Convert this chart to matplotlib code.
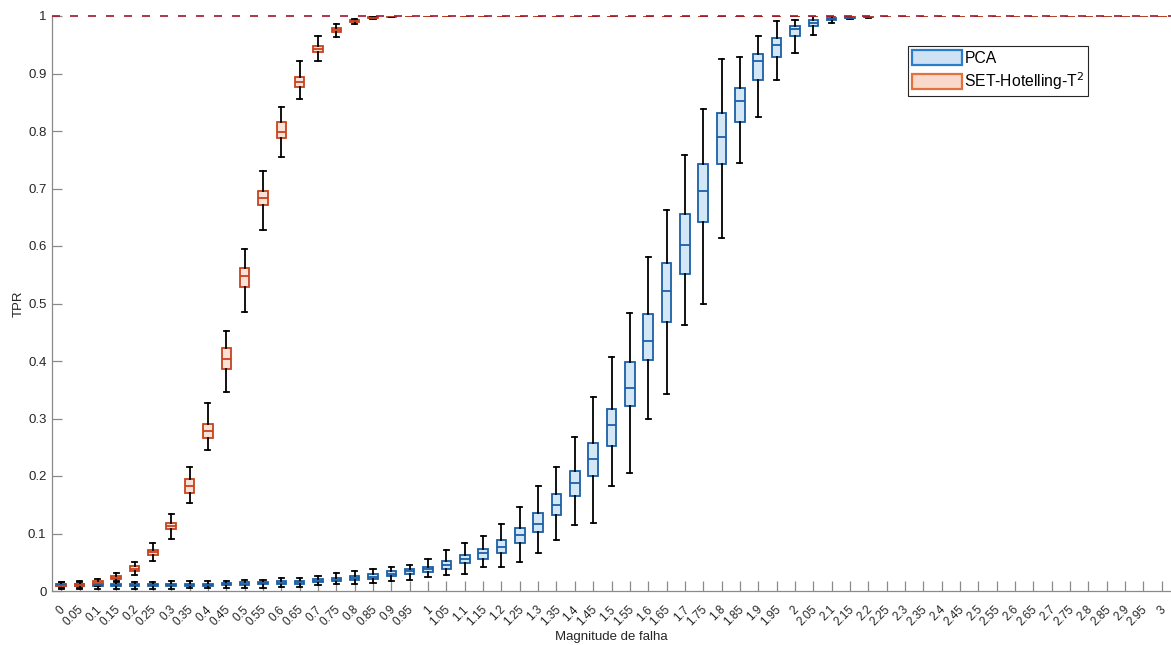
import matplotlib
matplotlib.use("Agg")
import matplotlib.pyplot as plt
import matplotlib.transforms as mtransforms
from matplotlib.patches import Patch

plt.rcParams['font.family'] = ['Liberation Sans', 'DejaVu Sans']

# fault magnitudes (x categories)
magnitudes = ['0', '0.05', '0.1', '0.15', '0.2', '0.25', '0.3', '0.35', '0.4', '0.45',
              '0.5', '0.55', '0.6', '0.65', '0.7', '0.75', '0.8', '0.85', '0.9', '0.95',
              '1', '1.05', '1.1', '1.15', '1.2', '1.25', '1.3', '1.35', '1.4', '1.45',
              '1.5', '1.55', '1.6', '1.65', '1.7', '1.75', '1.8', '1.85', '1.9', '1.95',
              '2', '2.05', '2.1', '2.15', '2.2', '2.25', '2.3', '2.35', '2.4', '2.45',
              '2.5', '2.55', '2.6', '2.65', '2.7', '2.75', '2.8', '2.85', '2.9', '2.95', '3']

# PCA: whisker low, q1, median, q3, whisker high
pca_lo = [0.004, 0.004, 0.004, 0.004, 0.004, 0.004, 0.004, 0.005, 0.005, 0.005,
          0.006, 0.006, 0.007, 0.007, 0.010, 0.012, 0.012, 0.014, 0.018, 0.019,
          0.024, 0.027, 0.030, 0.042, 0.042, 0.051, 0.066, 0.089, 0.114, 0.118,
          0.183, 0.206, 0.300, 0.343, 0.462, 0.500, 0.614, 0.745, 0.825, 0.888,
          0.935, 0.967, 0.987, 0.995, 0.997, 1.0, 1.0, 1.0, 1.0, 1.0,
          1.0, 1.0, 1.0, 1.0, 1.0, 1.0, 1.0, 1.0, 1.0, 1.0, 1.0]
pca_q1 = [0.008, 0.008, 0.008, 0.008, 0.008, 0.008, 0.008, 0.009, 0.009, 0.010,
          0.011, 0.012, 0.012, 0.013, 0.015, 0.017, 0.019, 0.021, 0.026, 0.030,
          0.033, 0.038, 0.048, 0.056, 0.066, 0.084, 0.103, 0.132, 0.165, 0.200,
          0.253, 0.321, 0.401, 0.467, 0.552, 0.642, 0.743, 0.815, 0.889, 0.929,
          0.965, 0.983, 0.993, 0.996, 0.998, 1.0, 1.0, 1.0, 1.0, 1.0,
          1.0, 1.0, 1.0, 1.0, 1.0, 1.0, 1.0, 1.0, 1.0, 1.0, 1.0]
pca_med = [0.010, 0.010, 0.010, 0.010, 0.010, 0.010, 0.010, 0.011, 0.011, 0.012,
           0.013, 0.014, 0.014, 0.015, 0.018, 0.020, 0.023, 0.025, 0.030, 0.035,
           0.038, 0.045, 0.055, 0.066, 0.077, 0.097, 0.117, 0.150, 0.187, 0.230,
           0.288, 0.353, 0.435, 0.522, 0.602, 0.696, 0.789, 0.852, 0.921, 0.950,
           0.977, 0.988, 0.995, 0.997, 0.999, 1.0, 1.0, 1.0, 1.0, 1.0,
           1.0, 1.0, 1.0, 1.0, 1.0, 1.0, 1.0, 1.0, 1.0, 1.0, 1.0]
pca_q3 = [0.012, 0.012, 0.012, 0.012, 0.012, 0.012, 0.012, 0.013, 0.013, 0.014,
          0.015, 0.016, 0.017, 0.018, 0.021, 0.023, 0.026, 0.030, 0.034, 0.039,
          0.042, 0.052, 0.063, 0.073, 0.088, 0.109, 0.136, 0.169, 0.208, 0.258,
          0.317, 0.399, 0.482, 0.570, 0.656, 0.742, 0.831, 0.874, 0.934, 0.961,
          0.983, 0.993, 0.997, 0.998, 1.0, 1.0, 1.0, 1.0, 1.0, 1.0,
          1.0, 1.0, 1.0, 1.0, 1.0, 1.0, 1.0, 1.0, 1.0, 1.0, 1.0]
pca_hi = [0.016, 0.016, 0.016, 0.016, 0.016, 0.016, 0.017, 0.017, 0.018, 0.018,
          0.020, 0.020, 0.022, 0.023, 0.026, 0.031, 0.035, 0.039, 0.042, 0.045,
          0.056, 0.072, 0.084, 0.096, 0.117, 0.146, 0.183, 0.215, 0.268, 0.337,
          0.407, 0.484, 0.581, 0.662, 0.758, 0.839, 0.925, 0.929, 0.965, 0.991,
          0.993, 1.0, 1.0, 1.0, 1.0, 1.0, 1.0, 1.0, 1.0, 1.0,
          1.0, 1.0, 1.0, 1.0, 1.0, 1.0, 1.0, 1.0, 1.0, 1.0, 1.0]

# SET-Hotelling-T2
set_lo = [0.006, 0.006, 0.008, 0.018, 0.027, 0.052, 0.090, 0.153, 0.245, 0.346,
          0.485, 0.627, 0.755, 0.855, 0.922, 0.964, 0.986, 0.994, 0.998, 1.0,
          1.0, 1.0, 1.0, 1.0, 1.0, 1.0, 1.0, 1.0, 1.0, 1.0,
          1.0, 1.0, 1.0, 1.0, 1.0, 1.0, 1.0, 1.0, 1.0, 1.0,
          1.0, 1.0, 1.0, 1.0, 1.0, 1.0, 1.0, 1.0, 1.0, 1.0,
          1.0, 1.0, 1.0, 1.0, 1.0, 1.0, 1.0, 1.0, 1.0, 1.0, 1.0]
set_q1 = [0.008, 0.009, 0.012, 0.021, 0.035, 0.062, 0.107, 0.170, 0.266, 0.386,
          0.528, 0.671, 0.788, 0.876, 0.938, 0.972, 0.989, 0.996, 0.999, 1.0,
          1.0, 1.0, 1.0, 1.0, 1.0, 1.0, 1.0, 1.0, 1.0, 1.0,
          1.0, 1.0, 1.0, 1.0, 1.0, 1.0, 1.0, 1.0, 1.0, 1.0,
          1.0, 1.0, 1.0, 1.0, 1.0, 1.0, 1.0, 1.0, 1.0, 1.0,
          1.0, 1.0, 1.0, 1.0, 1.0, 1.0, 1.0, 1.0, 1.0, 1.0, 1.0]
set_med = [0.0095, 0.011, 0.0145, 0.023, 0.039, 0.067, 0.113, 0.183, 0.279, 0.404,
           0.547, 0.683, 0.798, 0.886, 0.943, 0.976, 0.991, 0.997, 0.9995, 1.0,
           1.0, 1.0, 1.0, 1.0, 1.0, 1.0, 1.0, 1.0, 1.0, 1.0,
           1.0, 1.0, 1.0, 1.0, 1.0, 1.0, 1.0, 1.0, 1.0, 1.0,
           1.0, 1.0, 1.0, 1.0, 1.0, 1.0, 1.0, 1.0, 1.0, 1.0,
           1.0, 1.0, 1.0, 1.0, 1.0, 1.0, 1.0, 1.0, 1.0, 1.0, 1.0]
set_q3 = [0.011, 0.013, 0.017, 0.026, 0.043, 0.071, 0.119, 0.195, 0.291, 0.423,
          0.562, 0.696, 0.815, 0.894, 0.948, 0.979, 0.993, 0.998, 1.0, 1.0,
          1.0, 1.0, 1.0, 1.0, 1.0, 1.0, 1.0, 1.0, 1.0, 1.0,
          1.0, 1.0, 1.0, 1.0, 1.0, 1.0, 1.0, 1.0, 1.0, 1.0,
          1.0, 1.0, 1.0, 1.0, 1.0, 1.0, 1.0, 1.0, 1.0, 1.0,
          1.0, 1.0, 1.0, 1.0, 1.0, 1.0, 1.0, 1.0, 1.0, 1.0, 1.0]
set_hi = [0.015, 0.017, 0.021, 0.031, 0.051, 0.083, 0.134, 0.216, 0.327, 0.452,
          0.595, 0.730, 0.842, 0.922, 0.966, 0.986, 0.995, 0.999, 1.0, 1.0,
          1.0, 1.0, 1.0, 1.0, 1.0, 1.0, 1.0, 1.0, 1.0, 1.0,
          1.0, 1.0, 1.0, 1.0, 1.0, 1.0, 1.0, 1.0, 1.0, 1.0,
          1.0, 1.0, 1.0, 1.0, 1.0, 1.0, 1.0, 1.0, 1.0, 1.0,
          1.0, 1.0, 1.0, 1.0, 1.0, 1.0, 1.0, 1.0, 1.0, 1.0, 1.0]

PCA_EDGE, PCA_FILL = '#1B5FA6', '#D4E7F6'
SET_EDGE, SET_FILL = '#C8431D', '#FBE2D8'
AX_GREY = '#8A8A8A'
TXT = '#262626'


def make_stats(lo, q1, med, q3, hi):
    return [dict(whislo=a, q1=b, med=c, q3=d, whishi=e, fliers=[])
            for a, b, c, d, e in zip(lo, q1, med, q3, hi)]


def draw_boxes(ax, stats, edge, fill):
    pos = list(range(1, len(stats) + 1))
    ax.bxp(stats, positions=pos, widths=0.52, capwidths=0.28,
           patch_artist=True, showfliers=False, manage_ticks=False,
           boxprops=dict(facecolor=fill, edgecolor=edge, linewidth=1.3),
           medianprops=dict(color=edge, linewidth=1.3),
           whiskerprops=dict(color='black', linewidth=1.3),
           capprops=dict(color='black', linewidth=1.3))


fig = plt.figure(figsize=(11.71, 6.45), dpi=100)
ax = fig.add_axes([52 / 1171, 1 - 591 / 645, 1 - 52 / 1171, (591 - 16) / 645])

draw_boxes(ax, make_stats(pca_lo, pca_q1, pca_med, pca_q3, pca_hi), PCA_EDGE, PCA_FILL)
draw_boxes(ax, make_stats(set_lo, set_q1, set_med, set_q3, set_hi), SET_EDGE, SET_FILL)

ax.axhline(1.0, color='#A2142F', linewidth=1.2, dashes=(4.8, 6.0), clip_on=False, zorder=5)

ax.set_xlim(0.5, len(magnitudes) + 0.5)
ax.set_ylim(0, 1)
ax.set_xticks(range(1, len(magnitudes) + 1))
ax.set_xticklabels(magnitudes, rotation=45, ha='right', rotation_mode='anchor')
yt = [i / 10 for i in range(11)]
ax.set_yticks(yt)
ax.set_yticklabels(['0', '0.1', '0.2', '0.3', '0.4', '0.5', '0.6', '0.7', '0.8', '0.9', '1'])

ax.tick_params(axis='both', direction='in', length=7, width=0.9, color=AX_GREY,
               labelcolor=TXT)
ax.tick_params(axis='x', pad=4, labelsize=8.5)
ax.tick_params(axis='y', pad=4, labelsize=9.5)

# push the rotated x labels a little down and left of the ticks
shift = mtransforms.ScaledTranslation(-2 / 100, -7 / 100, fig.dpi_scale_trans)
for lbl in ax.get_xticklabels():
    lbl.set_transform(lbl.get_transform() + shift)

for side in ('top', 'right'):
    ax.spines[side].set_visible(False)
for side in ('left', 'bottom'):
    ax.spines[side].set_color(AX_GREY)
    ax.spines[side].set_linewidth(0.9)

ax.set_xlabel('Magnitude de falha', fontsize=9.5, color=TXT)
ax.xaxis.set_label_coords(0.5, -(631 - 591) / 575)
ax.set_ylabel('TPR', fontsize=9.5, color=TXT, labelpad=2)

handles = [Patch(facecolor='#CFE2F3', edgecolor='#2A7DC8', linewidth=1.6, label='PCA'),
           Patch(facecolor='#F8D9CC', edgecolor='#E2713F', linewidth=1.6,
                 label='SET-Hotelling-T$^2$')]
leg = fig.legend(handles=handles, loc='upper left', bbox_to_anchor=(908 / 1171, 1 - 46 / 645),
                 fontsize=11.3, frameon=True, fancybox=False, framealpha=1,
                 edgecolor=TXT, handlelength=3.2, handleheight=1.1,
                 handletextpad=0.15, labelspacing=0.3, borderpad=0.25, borderaxespad=0)
leg.get_frame().set_linewidth(0.8)

fig.savefig('out.png', dpi=100)
